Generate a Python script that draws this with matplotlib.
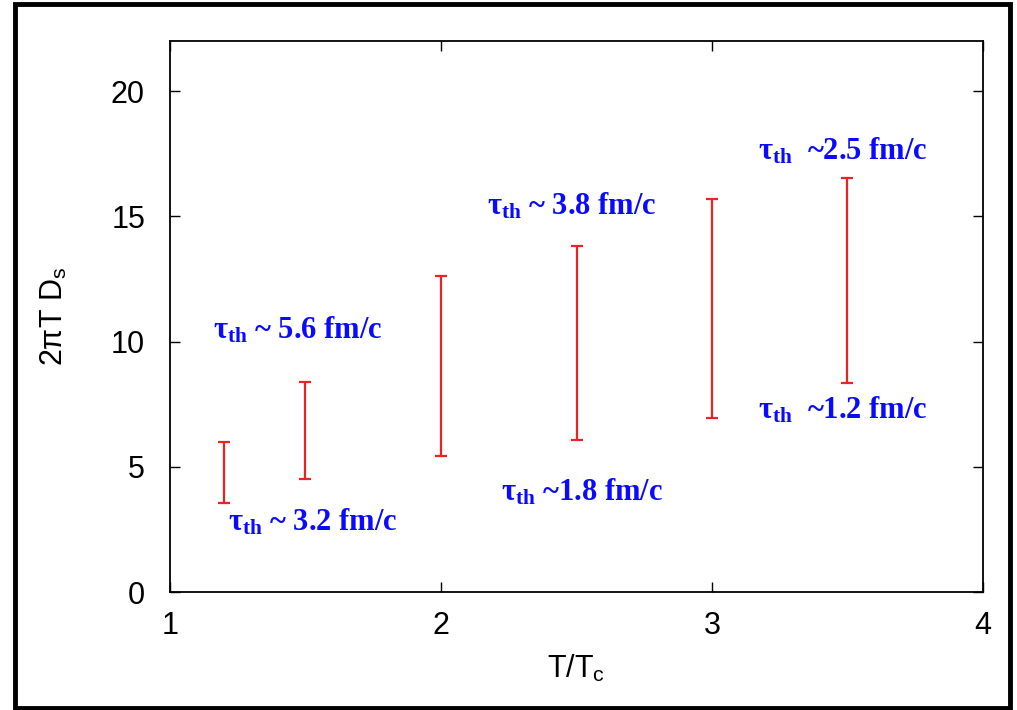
import matplotlib
matplotlib.use('Agg')
import matplotlib.pyplot as plt
from matplotlib.patches import Rectangle

# T/Tc points and the band of 2piT Ds at each
t_tc = [1.2, 1.5, 2.0, 2.5, 3.0, 3.5]
ds_lo = [3.55, 4.5, 5.45, 6.05, 6.95, 8.35]
ds_hi = [6.0, 8.38, 12.6, 13.8, 15.7, 16.52]

# thermalisation time notes: (x, y, text)
tau_x = [1.16, 1.215, 2.17, 2.22, 3.17, 3.17]
tau_y = [10.45, 2.8, 15.4, 4.0, 17.6, 7.25]
tau_txt = [r'$\tau_{th}$ ~ 5.6 fm/c', r'$\tau_{th}$ ~ 3.2 fm/c',
           r'$\tau_{th}$ ~ 3.8 fm/c', r'$\tau_{th}$ ~1.8 fm/c',
           r'$\tau_{th}$  ~2.5 fm/c', r'$\tau_{th}$  ~1.2 fm/c']

plt.rcParams['mathtext.fontset'] = 'custom'
plt.rcParams['mathtext.rm'] = 'Liberation Serif:bold'
plt.rcParams['mathtext.it'] = 'Liberation Serif:bold'
plt.rcParams['mathtext.bf'] = 'Liberation Serif:bold'
plt.rcParams['mathtext.sf'] = 'Liberation Sans'
plt.rcParams['font.family'] = 'Liberation Sans'

fig = plt.figure(figsize=(10.17, 7.1), dpi=100)
ax = fig.add_axes([170/1017, 1-592/710, (983-170)/1017, (592-41)/710])

mid = [(a+b)/2 for a, b in zip(ds_lo, ds_hi)]
err = [[m-a for m, a in zip(mid, ds_lo)], [b-m for m, b in zip(mid, ds_hi)]]
ax.errorbar(t_tc, mid, yerr=err, fmt='none', ecolor='#ee2222', elinewidth=1.6,
            capsize=4, capthick=1.6)

for x, y, s in zip(tau_x, tau_y, tau_txt):
    ax.text(x, y, s, color='#0a0aff', fontsize=22, va='center', ha='left',
            family='Liberation Serif', weight='bold')

ax.set_xlim(1, 4)
ax.set_ylim(0, 22)
ax.set_xticks([1, 2, 3, 4])
ax.set_yticks([0, 5, 10, 15, 20])
ax.tick_params(direction='in', length=7, width=1, labelsize=22, pad=14,
               top=True, right=True)
ax.tick_params(axis='y', pad=18)
for sp in ax.spines.values():
    sp.set_linewidth(1.3)

ax.set_xlabel(r'T/T$_\mathsf{c}$', fontsize=22, labelpad=8)
ax.set_ylabel(r'2$\mathsf{\pi}$T D$_\mathsf{s}$', fontsize=22, labelpad=30)

# frame round the whole figure
fig.patches.append(Rectangle((15/1017, 2/710), 995/1017, 704/710, transform=fig.transFigure,
                             fill=False, lw=3.5, ec='black'))

fig.savefig('out.png', dpi=100)
